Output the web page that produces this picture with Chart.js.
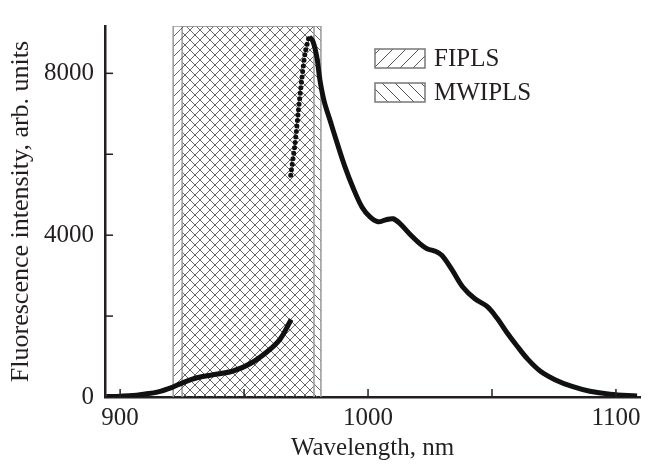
<!DOCTYPE html>
<html>
<head>
<meta charset="utf-8">
<script src="https://cdn.jsdelivr.net/npm/chart.js@4.4.1/dist/chart.umd.min.js"></script>
<style>
  body { margin: 0; background: #fff; }
  canvas { display: block; }
</style>
</head>
<body>
<canvas id="myChart" width="648" height="465"></canvas>
<script>
// spectrum (nm, arb. units)
const lowerWl  = [894.5, 900, 905.2, 910, 914.9, 921.0, 925.4, 931.0, 937.5, 945.6, 952.4, 959.3, 964.5, 969.0];
const lowerInt = [10, 20, 36, 75, 119, 238, 357, 476, 548, 643, 821, 1119, 1429, 1917];

const dotWl  = [968.8, 970.6, 971.9, 973.3, 974.6, 976.2];
const dotInt = [5483, 6286, 7071, 7864, 8500, 8905];

const upperWl  = [976.3, 977.8, 979.4, 980.6, 982.3, 984.7, 987.5, 990.7, 994.0, 997.6, 1000.8, 1004.0, 1007.3, 1010.1, 1012.9, 1016.9, 1021.0, 1023.8, 1027.4, 1029.8, 1033.9, 1038.3, 1043.1, 1048.0, 1052.0, 1056.0, 1060.1, 1064.5, 1069.4, 1075.4, 1082.3, 1089.5, 1097.6, 1108.5];
const upperInt = [8905, 8786, 8381, 7833, 7310, 6833, 6286, 5690, 5167, 4690, 4452, 4333, 4381, 4405, 4286, 4024, 3786, 3667, 3595, 3500, 3143, 2714, 2429, 2238, 1952, 1595, 1262, 929, 643, 429, 262, 143, 71, 24];

// selected intervals
const intervalNames = ['FIPLS', 'MWIPLS'];
const fiplsRange  = [921.4, 978.2];
const mwiplsRange = [925.0, 981.0];

const xMin = 893.9, xMax = 1109.7;
const yMax = 9170;
const xTicks = [900, 950, 1000, 1050, 1100];
const xLabels = [900, 1000, 1100];
const yTicks = [0, 2000, 4000, 6000, 8000];
const yLabels = [0, 4000, 8000];

const serif = '"Liberation Serif", "Times New Roman", serif';
const ink = '#231f20';

function toPoints(xs, ys) {
    return xs.map((x, i) => ({ x: x, y: ys[i] }));
}

function hatch(size, dir, color, width) {
    const c = document.createElement('canvas');
    c.width = size;
    c.height = size;
    const g = c.getContext('2d');
    g.strokeStyle = color;
    g.lineWidth = width;
    for (let k = -1; k <= 1; k++) {
        g.beginPath();
        if (dir == '/') {
            g.moveTo(-size, 2 * size + k * size);
            g.lineTo(2 * size, -size + k * size);
        } else {
            g.moveTo(-size, -size + k * size);
            g.lineTo(2 * size, 2 * size + k * size);
        }
        g.stroke();
    }
    return g.createPattern(c, 'repeat');
}

function boxPoints(range) {
    return [{ x: range[0], y: 0 }, { x: range[0], y: yMax }, { x: range[1], y: yMax }, { x: range[1], y: 0 }];
}

const ctx = document.getElementById('myChart');
const fiplsFill = hatch(10, '/', '#555', 0.9);
const mwiplsFill = hatch(10, '\\', '#555', 0.9);

// inward tick marks and the legend
const extras = {
    id: 'extras',
    afterDraw(chart) {
        const c = chart.ctx;
        const xs = chart.scales.x, ys = chart.scales.y;
        const area = chart.chartArea;
        c.save();
        c.strokeStyle = ink;
        c.lineWidth = 1.5;
        xTicks.forEach(v => {
            const px = xs.getPixelForValue(v);
            c.beginPath();
            c.moveTo(px, area.bottom);
            c.lineTo(px, area.bottom - 8);
            c.stroke();
        });
        yTicks.slice(1).forEach(v => {
            const py = ys.getPixelForValue(v);
            c.beginPath();
            c.moveTo(area.left, py);
            c.lineTo(area.left + 8, py);
            c.stroke();
        });

        const legendFills = [hatch(13, '/', '#555', 1), hatch(13, '\\', '#555', 1)];
        const tops = [49, 83];
        intervalNames.forEach((name, i) => {
            c.fillStyle = '#fff';
            c.fillRect(375, tops[i], 50, 19);
            c.fillStyle = legendFills[i];
            c.fillRect(375, tops[i], 50, 19);
            c.strokeStyle = '#777';
            c.lineWidth = 1.5;
            c.strokeRect(375, tops[i], 50, 19);
            c.fillStyle = ink;
            c.font = '25px ' + serif;
            c.textBaseline = 'middle';
            c.textAlign = 'left';
            c.fillText(name, 434, tops[i] + 10);
        });
        c.restore();
    }
};

const myChart = new Chart(ctx, {
    type: 'line',
    data: {
        datasets: [
            {
                label: 'lower',
                data: toPoints(lowerWl, lowerInt),
                borderColor: '#111',
                borderWidth: 5,
                pointRadius: 0,
                tension: 0.35,
                fill: false
            },
            {
                label: 'dotted',
                data: toPoints(dotWl, dotInt),
                borderColor: '#111',
                borderWidth: 5,
                borderDash: [0, 5.5],
                borderCapStyle: 'round',
                pointRadius: 0,
                tension: 0.3,
                fill: false
            },
            {
                label: 'upper',
                data: toPoints(upperWl, upperInt),
                borderColor: '#111',
                borderWidth: 5,
                pointRadius: 0,
                tension: 0.35,
                fill: false
            },
            {
                label: intervalNames[0],
                data: boxPoints(fiplsRange),
                borderColor: '#999',
                borderWidth: 1.5,
                backgroundColor: fiplsFill,
                pointRadius: 0,
                tension: 0,
                fill: 'origin'
            },
            {
                label: intervalNames[1],
                data: boxPoints(mwiplsRange),
                borderColor: '#999',
                borderWidth: 1.5,
                backgroundColor: mwiplsFill,
                pointRadius: 0,
                tension: 0,
                fill: 'origin'
            }
        ]
    },
    options: {
        responsive: false,
        animation: false,
        layout: { padding: { top: 12, right: 8, left: 0, bottom: 0 } },
        plugins: {
            legend: { display: false },
            tooltip: { enabled: false }
        },
        scales: {
            x: {
                type: 'linear',
                min: xMin,
                max: xMax,
                afterFit: s => { s.height = 68; },
                afterBuildTicks: s => { s.ticks = xLabels.map(v => ({ value: v })); },
                grid: { display: false, drawTicks: false },
                border: { display: true, color: ink, width: 2.5 },
                ticks: {
                    autoSkip: false,
                    maxRotation: 0,
                    padding: 6,
                    color: ink,
                    font: { family: serif, size: 25 },
                    callback: v => String(v)
                },
                title: {
                    display: true,
                    text: 'Wavelength, nm',
                    color: ink,
                    font: { family: serif, size: 25 },
                    padding: { top: 0, bottom: 2 }
                }
            },
            y: {
                type: 'linear',
                min: 0,
                max: yMax,
                afterFit: s => { s.width = 105; },
                afterBuildTicks: s => { s.ticks = yLabels.map(v => ({ value: v })); },
                grid: { display: false, drawTicks: false },
                border: { display: true, color: ink, width: 2.5 },
                ticks: {
                    autoSkip: false,
                    padding: 11,
                    color: ink,
                    font: { family: serif, size: 25 },
                    callback: v => String(v)
                },
                title: {
                    display: true,
                    text: 'Fluorescence intensity, arb. units',
                    color: ink,
                    font: { family: serif, size: 26 },
                    padding: { top: 6, bottom: 0 }
                }
            }
        }
    },
    plugins: [extras]
});
</script>
</body>
</html>
